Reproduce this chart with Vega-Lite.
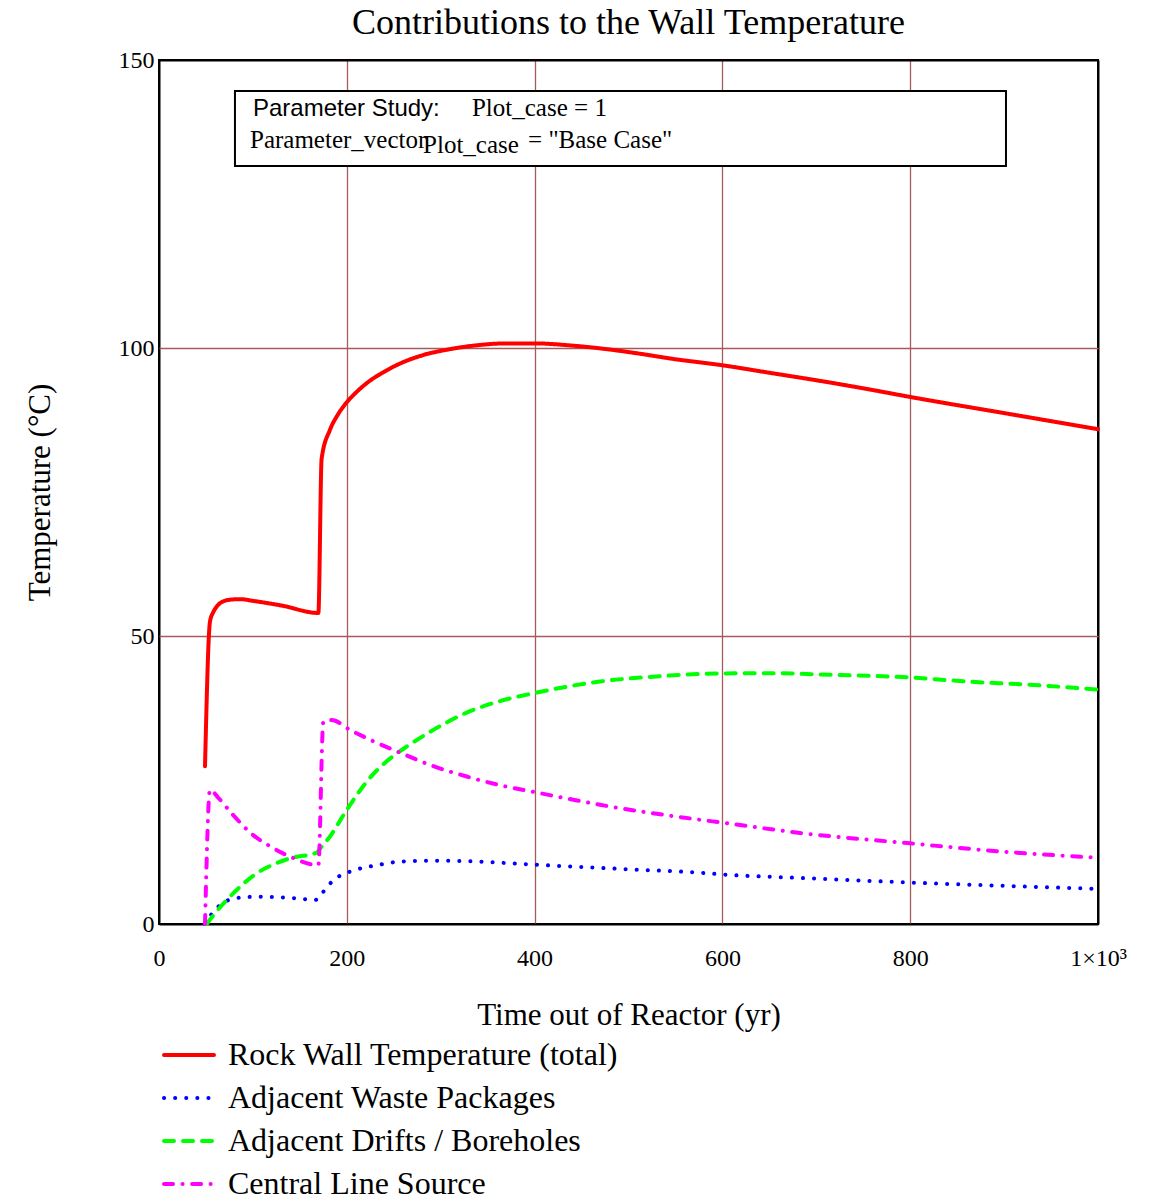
{
  "$schema": "https://vega.github.io/schema/vega-lite/v6.json",
  "width": 939,
  "height": 864,
  "autosize": {"type": "none"},
  "padding": {"left": 159, "top": 60, "right": 52, "bottom": 280},
  "background": "white",
  "title": {"text": "Contributions to the Wall Temperature", "font": "Liberation Serif", "fontSize": 36, "fontWeight": "normal", "color": "black", "anchor": "middle", "baseline": "bottom", "offset": 8, "dy": 38},
  "config": {
    "font": "Liberation Serif",
    "view": {"stroke": "black", "strokeWidth": 2}
  },
  "layer": [
    {
      "data": {"values": [
        {"t": 49, "T": 27.4, "series": "Rock Wall Temperature (total)"},
        {"t": 54.3, "T": 52.5, "series": "Rock Wall Temperature (total)"},
        {"t": 58, "T": 54.2, "series": "Rock Wall Temperature (total)"},
        {"t": 61.4, "T": 55.1, "series": "Rock Wall Temperature (total)"},
        {"t": 67, "T": 55.9, "series": "Rock Wall Temperature (total)"},
        {"t": 75.6, "T": 56.3, "series": "Rock Wall Temperature (total)"},
        {"t": 86.3, "T": 56.4, "series": "Rock Wall Temperature (total)"},
        {"t": 100, "T": 56.1, "series": "Rock Wall Temperature (total)"},
        {"t": 130, "T": 55.3, "series": "Rock Wall Temperature (total)"},
        {"t": 169.7, "T": 54.0, "series": "Rock Wall Temperature (total)"},
        {"t": 173.2, "T": 80.8, "series": "Rock Wall Temperature (total)"},
        {"t": 182.1, "T": 85.8, "series": "Rock Wall Temperature (total)"},
        {"t": 190, "T": 88.3, "series": "Rock Wall Temperature (total)"},
        {"t": 199.1, "T": 90.4, "series": "Rock Wall Temperature (total)"},
        {"t": 210, "T": 92.3, "series": "Rock Wall Temperature (total)"},
        {"t": 221.2, "T": 93.9, "series": "Rock Wall Temperature (total)"},
        {"t": 240, "T": 95.9, "series": "Rock Wall Temperature (total)"},
        {"t": 256.7, "T": 97.3, "series": "Rock Wall Temperature (total)"},
        {"t": 280, "T": 98.7, "series": "Rock Wall Temperature (total)"},
        {"t": 309.9, "T": 99.8, "series": "Rock Wall Temperature (total)"},
        {"t": 334.8, "T": 100.4, "series": "Rock Wall Temperature (total)"},
        {"t": 370.3, "T": 100.8, "series": "Rock Wall Temperature (total)"},
        {"t": 400, "T": 100.8, "series": "Rock Wall Temperature (total)"},
        {"t": 441.2, "T": 100.4, "series": "Rock Wall Temperature (total)"},
        {"t": 476.8, "T": 99.8, "series": "Rock Wall Temperature (total)"},
        {"t": 512.3, "T": 99.0, "series": "Rock Wall Temperature (total)"},
        {"t": 547.7, "T": 98.1, "series": "Rock Wall Temperature (total)"},
        {"t": 600, "T": 97.0, "series": "Rock Wall Temperature (total)"},
        {"t": 650, "T": 95.7, "series": "Rock Wall Temperature (total)"},
        {"t": 700, "T": 94.4, "series": "Rock Wall Temperature (total)"},
        {"t": 750, "T": 93.0, "series": "Rock Wall Temperature (total)"},
        {"t": 800, "T": 91.5, "series": "Rock Wall Temperature (total)"},
        {"t": 900, "T": 88.7, "series": "Rock Wall Temperature (total)"},
        {"t": 1000, "T": 85.9, "series": "Rock Wall Temperature (total)"},

        {"t": 49, "T": 0, "series": "Adjacent Waste Packages"},
        {"t": 57.8, "T": 2.1, "series": "Adjacent Waste Packages"},
        {"t": 66, "T": 3.4, "series": "Adjacent Waste Packages"},
        {"t": 80.9, "T": 4.45, "series": "Adjacent Waste Packages"},
        {"t": 104, "T": 4.74, "series": "Adjacent Waste Packages"},
        {"t": 128.9, "T": 4.63, "series": "Adjacent Waste Packages"},
        {"t": 150, "T": 4.4, "series": "Adjacent Waste Packages"},
        {"t": 166, "T": 4.17, "series": "Adjacent Waste Packages"},
        {"t": 170, "T": 4.5, "series": "Adjacent Waste Packages"},
        {"t": 175, "T": 5.6, "series": "Adjacent Waste Packages"},
        {"t": 183.9, "T": 7.3, "series": "Adjacent Waste Packages"},
        {"t": 192, "T": 8.3, "series": "Adjacent Waste Packages"},
        {"t": 203.4, "T": 9.1, "series": "Adjacent Waste Packages"},
        {"t": 231.8, "T": 10.2, "series": "Adjacent Waste Packages"},
        {"t": 254.9, "T": 10.8, "series": "Adjacent Waste Packages"},
        {"t": 290, "T": 11.0, "series": "Adjacent Waste Packages"},
        {"t": 330, "T": 10.9, "series": "Adjacent Waste Packages"},
        {"t": 400, "T": 10.3, "series": "Adjacent Waste Packages"},
        {"t": 500, "T": 9.5, "series": "Adjacent Waste Packages"},
        {"t": 576, "T": 8.9, "series": "Adjacent Waste Packages"},
        {"t": 600, "T": 8.6, "series": "Adjacent Waste Packages"},
        {"t": 682.6, "T": 8.0, "series": "Adjacent Waste Packages"},
        {"t": 800, "T": 7.2, "series": "Adjacent Waste Packages"},
        {"t": 895.6, "T": 6.65, "series": "Adjacent Waste Packages"},
        {"t": 1000, "T": 6.1, "series": "Adjacent Waste Packages"},

        {"t": 50.8, "T": 0, "series": "Adjacent Drifts / Boreholes"},
        {"t": 59.6, "T": 1.85, "series": "Adjacent Drifts / Boreholes"},
        {"t": 75.6, "T": 4.74, "series": "Adjacent Drifts / Boreholes"},
        {"t": 90, "T": 7.0, "series": "Adjacent Drifts / Boreholes"},
        {"t": 104, "T": 8.8, "series": "Adjacent Drifts / Boreholes"},
        {"t": 120, "T": 10.2, "series": "Adjacent Drifts / Boreholes"},
        {"t": 139.5, "T": 11.4, "series": "Adjacent Drifts / Boreholes"},
        {"t": 168, "T": 12.4, "series": "Adjacent Drifts / Boreholes"},
        {"t": 172, "T": 13.2, "series": "Adjacent Drifts / Boreholes"},
        {"t": 182.1, "T": 15.2, "series": "Adjacent Drifts / Boreholes"},
        {"t": 199.9, "T": 19.8, "series": "Adjacent Drifts / Boreholes"},
        {"t": 224.7, "T": 25.4, "series": "Adjacent Drifts / Boreholes"},
        {"t": 253.1, "T": 29.6, "series": "Adjacent Drifts / Boreholes"},
        {"t": 263.8, "T": 30.8, "series": "Adjacent Drifts / Boreholes"},
        {"t": 292.2, "T": 33.7, "series": "Adjacent Drifts / Boreholes"},
        {"t": 327.7, "T": 36.7, "series": "Adjacent Drifts / Boreholes"},
        {"t": 363.2, "T": 38.7, "series": "Adjacent Drifts / Boreholes"},
        {"t": 400, "T": 40.1, "series": "Adjacent Drifts / Boreholes"},
        {"t": 434.2, "T": 41.2, "series": "Adjacent Drifts / Boreholes"},
        {"t": 469.6, "T": 42.1, "series": "Adjacent Drifts / Boreholes"},
        {"t": 522.9, "T": 42.9, "series": "Adjacent Drifts / Boreholes"},
        {"t": 576.1, "T": 43.4, "series": "Adjacent Drifts / Boreholes"},
        {"t": 600, "T": 43.5, "series": "Adjacent Drifts / Boreholes"},
        {"t": 647.2, "T": 43.55, "series": "Adjacent Drifts / Boreholes"},
        {"t": 718.1, "T": 43.25, "series": "Adjacent Drifts / Boreholes"},
        {"t": 800, "T": 42.8, "series": "Adjacent Drifts / Boreholes"},
        {"t": 860.2, "T": 42.1, "series": "Adjacent Drifts / Boreholes"},
        {"t": 931.1, "T": 41.5, "series": "Adjacent Drifts / Boreholes"},
        {"t": 1000, "T": 40.7, "series": "Adjacent Drifts / Boreholes"},

        {"t": 49, "T": 0, "series": "Central Line Source"},
        {"t": 54.3, "T": 23.3, "series": "Central Line Source"},
        {"t": 63.2, "T": 21.9, "series": "Central Line Source"},
        {"t": 79.1, "T": 18.9, "series": "Central Line Source"},
        {"t": 96.9, "T": 15.9, "series": "Central Line Source"},
        {"t": 118.2, "T": 13.5, "series": "Central Line Source"},
        {"t": 139.5, "T": 11.7, "series": "Central Line Source"},
        {"t": 169.7, "T": 10.2, "series": "Central Line Source"},
        {"t": 175, "T": 35.1, "series": "Central Line Source"},
        {"t": 183.9, "T": 35.4, "series": "Central Line Source"},
        {"t": 203.4, "T": 33.7, "series": "Central Line Source"},
        {"t": 230, "T": 31.6, "series": "Central Line Source"},
        {"t": 256, "T": 29.8, "series": "Central Line Source"},
        {"t": 292.2, "T": 27.4, "series": "Central Line Source"},
        {"t": 327.7, "T": 25.6, "series": "Central Line Source"},
        {"t": 363.2, "T": 24.1, "series": "Central Line Source"},
        {"t": 400, "T": 22.9, "series": "Central Line Source"},
        {"t": 434.2, "T": 21.8, "series": "Central Line Source"},
        {"t": 469.6, "T": 20.7, "series": "Central Line Source"},
        {"t": 522.9, "T": 19.3, "series": "Central Line Source"},
        {"t": 576.1, "T": 18.1, "series": "Central Line Source"},
        {"t": 600, "T": 17.6, "series": "Central Line Source"},
        {"t": 682.6, "T": 15.8, "series": "Central Line Source"},
        {"t": 800, "T": 14.0, "series": "Central Line Source"},
        {"t": 895.6, "T": 12.6, "series": "Central Line Source"},
        {"t": 1000, "T": 11.5, "series": "Central Line Source"}
      ]},
      "mark": {"type": "line", "strokeWidth": 4, "strokeCap": "round", "strokeJoin": "round", "interpolate": "monotone"},
      "encoding": {
        "x": {
          "field": "t", "type": "quantitative",
          "scale": {"domain": [0, 1000], "nice": false, "zero": false},
          "axis": {
            "title": "Time out of Reactor (yr)",
            "values": [0, 200, 400, 600, 800, 1000],
            "labelExpr": "datum.value == 1000 ? '1×10³' : datum.label",
            "grid": true,
            "gridColor": {"condition": {"test": "datum.value == 0 || datum.value == 1000", "value": "black"}, "value": "#a65a5a"},
            "gridWidth": {"condition": {"test": "datum.value == 0 || datum.value == 1000", "value": 2}, "value": 1.3},
            "domain": false, "ticks": false,
            "labelFlush": false, "labelOverlap": false,
            "labelPadding": 22, "labelFontSize": 24, "labelDx": 5,
            "labelFont": "Liberation Serif", "labelColor": "black",
            "titleFont": "Liberation Serif", "titleFontSize": 31, "titleFontWeight": "normal",
            "titleColor": "black", "titlePadding": 30
          }
        },
        "y": {
          "field": "T", "type": "quantitative",
          "scale": {"domain": [0, 150], "nice": false},
          "axis": {
            "title": "Temperature (°C)",
            "values": [0, 50, 100, 150],
            "grid": true,
            "gridColor": {"condition": {"test": "datum.value == 0 || datum.value == 150", "value": "black"}, "value": "#a65a5a"},
            "gridWidth": {"condition": {"test": "datum.value == 0 || datum.value == 150", "value": 2}, "value": 1.3},
            "domain": false, "ticks": false,
            "labelFlush": false, "labelOverlap": false,
            "labelPadding": 5, "labelFontSize": 24,
            "labelFont": "Liberation Serif", "labelColor": "black",
            "titleFont": "Liberation Serif", "titleFontSize": 31, "titleFontWeight": "normal",
            "titleColor": "black", "titlePadding": 62
          }
        },
        "color": {
          "field": "series", "type": "nominal",
          "scale": {
            "domain": ["Rock Wall Temperature (total)", "Adjacent Waste Packages", "Adjacent Drifts / Boreholes", "Central Line Source"],
            "range": ["#ff0000", "#0000ff", "#00ff00", "#ff00ff"]
          },
          "legend": {
            "title": null, "orient": "none", "legendX": 3, "legendY": 968,
            "symbolType": "stroke", "symbolSize": 2500, "symbolStrokeWidth": 4,
            "labelFont": "Liberation Serif", "labelFontSize": 32, "labelColor": "black",
            "labelOffset": 12, "rowPadding": 0, "padding": 0, "labelLimit": 800,
            "encode": {"symbols": {"update": {"strokeCap": {"value": "round"}}}}
          }
        },
        "strokeDash": {
          "field": "series", "type": "nominal",
          "scale": {
            "domain": ["Rock Wall Temperature (total)", "Adjacent Waste Packages", "Adjacent Drifts / Boreholes", "Central Line Source"],
            "range": [[1, 0], [0.1, 11], [10, 9], [9, 9.5, 0.1, 9.5]]
          },
          "legend": {
            "title": null, "orient": "none", "legendX": 3, "legendY": 968,
            "symbolType": "stroke", "symbolSize": 2500, "symbolStrokeWidth": 4,
            "labelFont": "Liberation Serif", "labelFontSize": 32, "labelColor": "black",
            "labelOffset": 12, "rowPadding": 0, "padding": 0, "labelLimit": 800,
            "encode": {"symbols": {"update": {"strokeCap": {"value": "round"}}}}
          }
        }
      }
    },
    {
      "data": {"values": [{}]},
      "mark": {"type": "rect", "fill": "white", "stroke": "black", "strokeWidth": 2},
      "encoding": {
        "x": {"datum": 80.9}, "x2": {"datum": 902},
        "y": {"datum": 144.6}, "y2": {"datum": 131.6}
      }
    },
    {
      "data": {"values": [{}]},
      "mark": {"type": "text", "text": "Parameter Study:", "font": "Liberation Sans", "fontSize": 24, "align": "left", "baseline": "alphabetic", "color": "black"},
      "encoding": {"x": {"datum": 100.1}, "y": {"datum": 140.2}}
    },
    {
      "data": {"values": [{}]},
      "mark": {"type": "text", "text": "Plot_case = 1", "font": "Liberation Serif", "fontSize": 25, "align": "left", "baseline": "alphabetic", "color": "black"},
      "encoding": {"x": {"datum": 333.3}, "y": {"datum": 140.2}}
    },
    {
      "data": {"values": [{}]},
      "mark": {"type": "text", "text": "Parameter_vector", "font": "Liberation Serif", "fontSize": 25, "align": "left", "baseline": "alphabetic", "color": "black"},
      "encoding": {"x": {"datum": 96.9}, "y": {"datum": 134.7}}
    },
    {
      "data": {"values": [{}]},
      "mark": {"type": "text", "text": "Plot_case", "font": "Liberation Serif", "fontSize": 25, "align": "left", "baseline": "alphabetic", "color": "black"},
      "encoding": {"x": {"datum": 281.2}, "y": {"datum": 133.9}}
    },
    {
      "data": {"values": [{}]},
      "mark": {"type": "text", "text": "=  \"Base Case\"", "font": "Liberation Serif", "fontSize": 25, "align": "left", "baseline": "alphabetic", "color": "black"},
      "encoding": {"x": {"datum": 393}, "y": {"datum": 134.7}}
    }
  ]
}
